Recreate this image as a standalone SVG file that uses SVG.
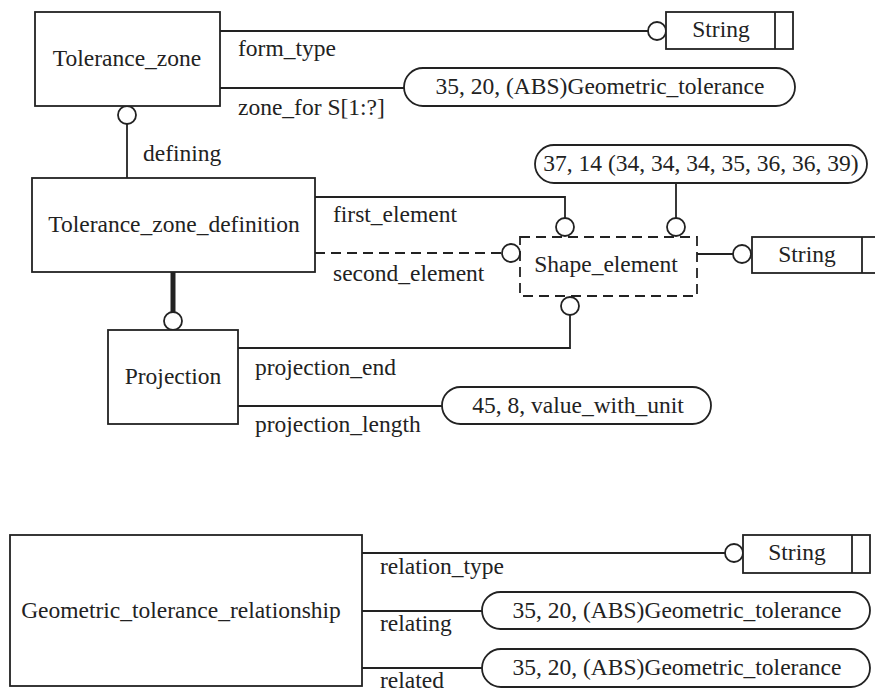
<svg xmlns="http://www.w3.org/2000/svg" width="875" height="698" viewBox="0 0 875 698">
<defs>
<circle id="ring" r="9" fill="#fff" stroke="#222" stroke-width="1.8"/>
</defs>
<rect width="875" height="698" fill="#fff"/>
<g id="connectors" fill="none" stroke="#222" stroke-width="1.8">
<path d="M220,31H648"/>
<path d="M220,88H404"/>
<path d="M127,124V178"/>
<path d="M315,197H565V218"/>
<path d="M315,253H502" stroke-dasharray="10,6"/>
<path d="M676,183V218"/>
<path d="M697,254H733"/>
<path d="M570,315V348H238"/>
<path d="M173,272V313" stroke-width="5"/>
<path d="M238,406H442"/>
<path d="M362,553H725"/>
<path d="M362,611H482"/>
<path d="M362,668H482"/>
<use href="#ring" x="657" y="31"/>
<use href="#ring" x="127" y="115"/>
<use href="#ring" x="565" y="227"/>
<use href="#ring" x="676" y="227"/>
<use href="#ring" x="511" y="253"/>
<use href="#ring" x="742" y="254"/>
<use href="#ring" x="570" y="306"/>
<use href="#ring" x="173" y="321"/>
<use href="#ring" x="734" y="553"/>
<text font-family="Times New Roman" font-size="23.5" fill="#222" stroke="none" x="238" y="56">form_type</text>
<text font-family="Times New Roman" font-size="23.5" fill="#222" stroke="none" x="238" y="115">zone_for S[1:?]</text>
<text font-family="Times New Roman" font-size="23.5" fill="#222" stroke="none" x="143" y="161">defining</text>
<text font-family="Times New Roman" font-size="23.5" fill="#222" stroke="none" x="333" y="222">first_element</text>
<text font-family="Times New Roman" font-size="23.5" fill="#222" stroke="none" x="333" y="281">second_element</text>
<text font-family="Times New Roman" font-size="23.5" fill="#222" stroke="none" x="255" y="375">projection_end</text>
<text font-family="Times New Roman" font-size="23.5" fill="#222" stroke="none" x="255" y="432">projection_length</text>
<text font-family="Times New Roman" font-size="23.5" fill="#222" stroke="none" x="380" y="574">relation_type</text>
<text font-family="Times New Roman" font-size="23.5" fill="#222" stroke="none" x="380" y="631">relating</text>
<text font-family="Times New Roman" font-size="23.5" fill="#222" stroke="none" x="380" y="688">related</text>
</g>
<g stroke="#222" stroke-width="1.8">
<g id="tolerance_zone">
<rect fill="#fff" x="35" y="12" width="185" height="94"/>
<text font-family="Times New Roman" font-size="23.5" fill="#222" stroke="none" text-anchor="middle" x="127" y="66">Tolerance_zone</text>
</g>
<g id="string1">
<rect fill="#fff" x="666" y="12" width="127" height="37"/>
<path d="M775,12V49"/>
<text font-family="Times New Roman" font-size="23.5" fill="#222" stroke="none" text-anchor="middle" x="721" y="37">String</text>
</g>
<g id="gt1">
<rect fill="#fff" x="404" y="68" width="391" height="38" rx="19"/>
<text font-family="Times New Roman" font-size="23.5" fill="#222" stroke="none" text-anchor="middle" x="600" y="94">35, 20, (ABS)Geometric_tolerance</text>
</g>
<g id="tolerance_zone_definition">
<rect fill="#fff" x="32" y="178" width="283" height="94"/>
<text font-family="Times New Roman" font-size="23.5" fill="#222" stroke="none" text-anchor="middle" x="174" y="232">Tolerance_zone_definition</text>
</g>
<g id="select37">
<rect fill="#fff" x="535" y="145" width="332" height="38" rx="19"/>
<text font-family="Times New Roman" font-size="23.5" fill="#222" stroke="none" text-anchor="middle" x="701" y="171">37, 14 (34, 34, 34, 35, 36, 36, 39)</text>
</g>
<g id="shape_element">
<rect fill="none" stroke-dasharray="10,6" x="520" y="237" width="177" height="59"/>
<text font-family="Times New Roman" font-size="23.5" fill="#222" stroke="none" text-anchor="middle" x="606" y="272">Shape_element</text>
</g>
<g id="string2">
<rect fill="#fff" x="752" y="237" width="127" height="36"/>
<path d="M862,237V273"/>
<text font-family="Times New Roman" font-size="23.5" fill="#222" stroke="none" text-anchor="middle" x="807" y="262">String</text>
</g>
<g id="projection">
<rect fill="#fff" x="108" y="330" width="130" height="94"/>
<text font-family="Times New Roman" font-size="23.5" fill="#222" stroke="none" text-anchor="middle" x="173" y="384">Projection</text>
</g>
<g id="value_with_unit">
<rect fill="#fff" x="442" y="387" width="269" height="37" rx="18.5"/>
<text font-family="Times New Roman" font-size="23.5" fill="#222" stroke="none" text-anchor="middle" x="578" y="413">45, 8, value_with_unit</text>
</g>
<g id="geometric_tolerance_relationship">
<rect fill="#fff" x="10" y="535" width="352" height="151"/>
<text font-family="Times New Roman" font-size="23.5" fill="#222" stroke="none" text-anchor="middle" x="181" y="618">Geometric_tolerance_relationship</text>
</g>
<g id="string3">
<rect fill="#fff" x="743" y="535" width="127" height="38"/>
<path d="M852,535V573"/>
<text font-family="Times New Roman" font-size="23.5" fill="#222" stroke="none" text-anchor="middle" x="797" y="560">String</text>
</g>
<g id="gt2">
<rect fill="#fff" x="482" y="592" width="388" height="37" rx="18.5"/>
<text font-family="Times New Roman" font-size="23.5" fill="#222" stroke="none" text-anchor="middle" x="677" y="618">35, 20, (ABS)Geometric_tolerance</text>
</g>
<g id="gt3">
<rect fill="#fff" x="482" y="649" width="388" height="38" rx="19"/>
<text font-family="Times New Roman" font-size="23.5" fill="#222" stroke="none" text-anchor="middle" x="677" y="675">35, 20, (ABS)Geometric_tolerance</text>
</g>
</g>
</svg>
